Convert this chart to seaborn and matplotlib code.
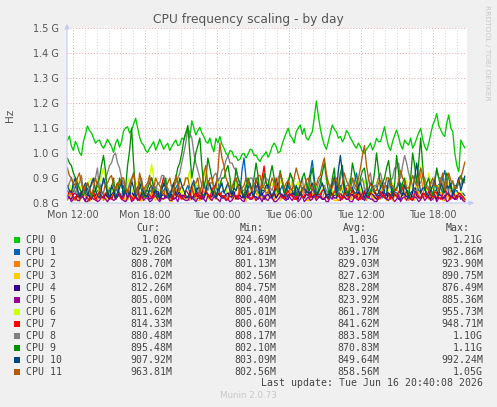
import numpy as np
import pandas as pd
import matplotlib
matplotlib.use("Agg")
import matplotlib.pyplot as plt
import seaborn as sns
from matplotlib.patches import Rectangle

# ---- data (MHz), ~10-minute samples from Mon 11:30 to Tue 20:40 ----
cpu0 = [1050,1068,1028,1010,1046,1030,1002,990,1046,1075,1108,1090,1081,1060,1039,1048,1052,1030,1019,1035,
        1055,1040,1026,1002,1039,1055,1023,1045,1089,1100,1105,1080,1092,1115,1139,1100,1063,1040,1032,1010,
        1002,1020,1032,1045,1012,1030,1055,1035,1015,1030,1039,1010,
        1026,1040,1052,1030,1032,1060,1055,1080,1092,1060,1129,1100,1072,1090,1103,1080,1066,1045,1039,1060,
        1026,1005,1059,1040,1066,1035,1019,1000,988,1010,1006,985,986,970,975,995,999,980,996,1015,
        1012,990,992,975,966,985,992,1005,983,1000,1026,1040,
        1026,1000,1006,1035,1059,1080,1099,1070,1059,1040,1085,1100,1112,1075,1099,1060,1052,1070,1085,1140,
        1208,1150,1099,1060,1032,1015,1046,1080,1112,1095,1085,1060,1066,1045,1059,1090,1079,1060,1046,1030,
        1019,1040,1026,1005,999,1015,1026,1040,1012,1030,1059,1045,
        1046,1075,1105,1060,1026,1010,1046,1070,1092,1065,1032,1015,1052,1040,1032,1060,1019,1035,1059,1080,
        1099,1055,1026,1010,1039,1075,1112,1130,1158,1110,1092,1075,1066,1120,1152,1100,1085,1000,950,925,
        1052,1035,1020]
cpu1 = [850,835,830,845,870,840,820,830,840,855,860,830,825,845,850,870,880,850,830,820,
        845,860,820,835,860,845,835,820,870,850,825,840,850,830,840,865,820,835,860,840,
        830,850,845,825,870,845,820,840,850,865,835,820,820,845,860,875,840,825,830,850,
        870,840,825,815,850,870,840,830,820,845,860,880,835,850,880,900,830,845,850,830,
        820,840,860,880,900,870,840,930,980,900,850,830,830,855,870,845,820,835,845,860,
        860,840,830,850,820,835,850,870,840,825,870,850,825,840,845,830,830,855,860,840,
        880,920,970,900,840,825,820,850,860,835,835,855,850,830,830,845,870,850,825,840,
        845,830,860,880,920,870,830,845,850,825,820,840,840,860,870,845,830,820,850,870,
        825,840,860,845,840,830,880,860,830,850,850,835,820,845,870,850,840,825,830,855,
        860,840,835,850,850,875,870,900,930,880,840,825,825,845,850,830,835,840,829]
cpu2 = [820,835,840,815,810,830,830,845,850,825,815,805,835,850,820,810,845,830,810,825,
        830,815,825,840,815,830,840,825,820,810,835,850,810,825,830,815,845,835,820,840,
        815,830,835,820,825,845,810,830,840,820,830,815,820,840,845,860,815,830,830,820,
        825,810,840,855,810,830,835,820,820,845,830,815,845,830,815,835,840,825,825,810,
        830,850,815,835,850,870,825,840,810,830,835,815,820,845,840,825,830,815,815,840,
        845,830,825,810,835,855,810,825,830,845,820,835,840,820,815,830,835,850,825,815,
        810,830,840,825,820,845,830,815,845,835,815,825,835,850,825,810,810,830,840,825,
        825,815,830,845,815,835,845,825,820,810,835,850,810,830,830,815,840,860,820,835,
        835,825,815,840,830,820,845,870,825,840,810,830,840,825,830,880,920,860,825,840,
        815,830,835,820,825,845,840,815,810,830,830,850,845,825,820,835,830,815,809]
cpu3 = [810,825,830,815,820,840,805,820,840,830,815,805,825,840,810,820,835,815,820,830,
        805,820,830,845,815,825,840,820,820,810,810,830,835,815,825,840,815,805,830,825,
        820,835,845,820,810,830,830,815,815,840,825,810,805,820,840,830,820,835,830,815,
        815,825,835,850,825,810,810,830,850,835,820,810,830,845,815,830,840,820,825,815,
        810,830,830,815,820,840,845,830,815,805,835,850,825,815,810,835,830,820,820,810,
        840,825,815,830,825,845,810,820,835,855,820,840,890,860,830,815,815,835,825,810,
        810,830,835,820,820,845,830,815,815,825,840,830,825,810,810,835,835,820,820,840,
        830,815,815,830,845,825,820,835,810,820,830,845,825,815,840,825,815,830,830,810,
        820,840,810,825,835,815,825,845,815,830,840,820,820,810,830,845,810,825,835,820,
        825,840,815,830,840,820,820,810,830,845,810,825,835,815,825,840,820,830,816]
cpu4 = [830,820,815,835,840,825,825,845,820,810,835,825,815,830,830,850,845,825,820,835,
        825,815,835,845,815,825,840,820,830,845,820,835,845,830,825,815,815,840,835,825,
        830,815,820,835,840,855,815,830,835,820,825,845,830,815,820,835,845,830,830,820,
        825,840,815,830,840,825,830,815,820,840,835,825,825,850,875,840,830,820,820,835,
        840,825,825,845,815,830,830,820,835,850,820,835,845,825,825,815,830,840,815,830,
        835,820,825,840,820,835,840,825,830,815,815,835,835,850,825,815,845,830,820,835,
        830,845,820,835,840,825,825,815,815,830,835,850,830,820,820,840,840,825,825,815,
        815,830,835,820,825,845,830,815,845,830,820,840,835,825,815,830,830,845,825,815,
        840,830,820,835,830,815,815,840,835,825,825,815,845,860,830,820,820,835,835,825,
        825,815,840,830,815,835,830,820,820,840,835,825,825,815,830,840,815,825,812]
cpu5 = [815,825,805,815,825,810,810,830,820,805,805,820,830,815,815,805,810,825,825,815,
        805,820,820,810,815,830,830,815,810,805,820,835,805,815,825,810,815,830,810,820,
        820,805,810,825,830,815,805,820,815,830,825,810,810,820,820,805,835,825,815,810,
        810,825,825,815,805,820,820,830,815,805,830,820,810,825,820,815,805,830,825,810,
        815,805,810,825,830,815,820,810,805,825,825,815,815,830,810,820,820,805,830,815,
        810,825,820,805,805,815,825,835,815,810,835,820,810,825,820,805,815,830,805,815,
        825,810,815,830,810,820,830,815,820,805,805,825,815,840,885,850,810,820,825,815,
        815,805,805,825,820,810,830,820,810,825,825,815,815,805,805,820,820,830,830,815,
        810,825,820,805,815,830,805,820,825,810,830,815,810,825,820,805,815,830,810,820,
        825,810,815,830,805,820,820,815,830,805,810,825,820,815,815,830,825,810,805]
cpu6 = [860,880,840,860,880,900,850,870,830,850,870,890,900,870,850,830,880,910,940,900,
        870,850,840,865,860,880,890,860,850,840,880,900,840,860,870,885,900,870,860,845,
        880,910,955,900,870,850,850,875,890,860,860,840,840,870,880,900,850,835,870,895,
        900,930,860,840,880,860,850,870,930,890,870,850,840,860,860,880,890,865,850,840,
        870,890,840,860,880,855,860,840,850,875,890,860,870,850,840,865,860,880,880,850,
        850,870,870,890,840,855,880,900,860,845,900,870,850,840,870,885,840,860,860,880,
        880,855,850,870,870,845,840,860,860,880,890,870,850,835,870,890,840,855,880,860,
        860,840,840,865,870,885,850,840,890,870,860,845,840,860,880,900,850,870,870,845,
        850,875,880,860,860,840,840,870,870,890,850,860,880,900,860,900,945,890,870,850,
        920,880,860,840,840,870,870,855,850,880,880,860,860,845,840,830,850,825,812]
cpu7 = [830,845,850,825,815,835,840,820,860,840,820,810,835,850,810,830,845,825,825,840,
        840,820,815,835,860,880,830,815,820,845,850,830,825,810,840,860,810,825,835,850,
        850,830,820,840,840,825,830,870,905,860,825,840,815,830,845,825,830,815,820,850,
        840,825,860,835,825,845,815,830,880,850,835,820,850,870,820,835,840,825,830,815,
        815,840,845,830,825,815,860,840,830,850,840,820,820,835,850,880,835,900,948,880,
        860,835,825,845,900,860,840,820,820,835,850,830,830,815,815,840,845,825,825,850,
        840,820,860,840,820,835,835,850,850,825,815,835,830,845,845,825,825,815,840,860,
        820,835,850,825,835,815,815,840,840,860,825,835,860,840,830,815,845,830,820,840,
        835,815,850,835,825,845,840,860,880,850,830,815,815,835,845,825,820,840,835,820,
        850,830,825,845,840,820,815,835,860,840,830,815,845,830,820,840,835,825,814]
cpu8 = [860,880,900,870,840,860,880,910,850,830,830,860,870,890,900,940,850,870,880,900,
        920,950,960,990,1000,960,940,900,880,860,850,880,900,920,860,840,880,900,840,860,
        870,900,900,870,850,880,880,910,910,870,860,840,840,870,880,900,920,960,1000,1040,
        1100,1080,1060,1000,960,930,900,870,870,850,850,880,880,910,920,890,900,930,940,970,
        990,960,960,940,930,900,870,850,850,870,880,900,900,870,860,840,840,870,870,900,
        890,860,850,880,870,900,920,880,860,850,880,910,900,870,850,840,870,900,840,860,
        880,900,860,840,850,880,900,870,870,850,840,870,880,910,860,840,900,930,850,870,
        870,900,890,860,850,880,880,900,860,840,900,920,850,870,870,900,920,880,880,860,
        860,890,900,940,940,960,900,950,990,960,920,890,870,850,850,880,880,910,900,870,
        860,880,880,900,930,900,900,870,870,890,850,870,890,860,860,880,870,900,880]
cpu9 = [980,960,950,920,900,880,860,840,830,850,880,860,820,840,850,880,900,950,990,930,
        830,850,860,900,820,840,900,870,840,860,950,1010,1100,960,840,860,880,850,820,840,
        860,880,900,860,840,820,830,860,870,900,820,840,850,880,900,940,960,1000,1050,1080,
        1110,1000,900,950,1000,1030,1060,950,860,900,980,940,900,860,830,850,870,900,900,930,
        950,900,830,860,940,900,880,850,820,860,900,870,850,900,960,910,830,860,920,880,
        870,910,950,900,860,840,930,890,840,860,880,920,900,860,830,850,870,900,920,880,
        850,900,940,880,830,850,880,920,960,900,850,830,900,940,830,860,920,950,870,840,
        840,880,960,920,880,850,900,930,940,880,830,850,870,920,1000,930,860,880,900,940,
        970,900,840,870,990,920,850,880,900,850,830,900,1000,950,880,960,1060,950,850,880,
        900,860,830,880,940,900,860,840,880,920,900,860,840,870,870,900,910,880,895]
cpu10 = [870,850,840,880,900,860,820,840,860,880,830,850,880,900,850,830,820,860,900,870,
         840,820,870,850,820,840,860,890,830,850,850,830,890,860,820,840,860,880,840,825,
         830,860,870,840,850,830,820,850,880,860,840,820,860,880,830,850,900,870,850,830,
         820,840,870,890,840,860,860,835,830,850,890,870,850,830,820,850,860,880,840,860,
         880,850,830,860,850,875,870,840,820,835,860,880,840,825,900,870,830,850,850,870,
         870,845,820,840,860,880,840,830,830,850,890,860,850,830,870,850,830,860,860,845,
         840,860,880,850,830,840,860,880,850,830,820,850,870,900,840,930,990,920,850,830,
         830,860,860,840,840,870,880,850,820,840,850,880,870,850,830,840,860,880,840,830,
         900,870,830,850,860,880,840,830,870,850,820,840,850,900,960,900,840,860,860,835,
         830,850,870,890,850,830,880,860,840,870,860,880,830,850,870,900,850,880,908]
cpu11 = [940,910,900,880,870,900,920,880,850,870,880,860,830,860,900,870,860,840,840,880,
         880,900,910,870,850,880,870,900,900,860,840,870,890,920,860,840,920,880,850,870,
         880,910,840,860,900,880,870,850,830,860,880,900,860,840,910,880,850,870,870,900,
         900,860,850,880,880,900,840,870,920,950,870,900,900,860,860,930,1040,980,950,900,
         880,860,860,890,900,870,840,860,870,900,890,860,850,880,880,910,910,870,860,840,
         840,870,900,880,870,850,920,890,860,880,890,860,850,900,940,910,880,850,860,890,
         900,870,850,880,870,900,910,950,980,920,880,860,860,890,900,870,850,880,920,890,
         870,850,900,880,860,900,940,990,1030,950,900,870,870,850,850,880,890,860,860,900,
         900,870,870,850,850,890,930,900,880,860,860,880,910,890,870,900,940,910,880,860,
         850,880,900,870,870,850,890,920,850,880,920,890,880,860,860,890,900,930,964]

cpu_names = ["CPU 0", "CPU 1", "CPU 2", "CPU 3", "CPU 4", "CPU 5",
             "CPU 6", "CPU 7", "CPU 8", "CPU 9", "CPU 10", "CPU 11"]
cpu_colors = ["#00CC00", "#0066B3", "#FF8000", "#FFCC00", "#330099", "#990099",
              "#CCFF00", "#FF0000", "#808080", "#008F00", "#00487D", "#B35A00"]
cur_vals = ["1.02G", "829.26M", "808.70M", "816.02M", "812.26M", "805.00M",
            "811.62M", "814.33M", "880.48M", "895.48M", "907.92M", "963.81M"]
min_vals = ["924.69M", "801.81M", "801.13M", "802.56M", "804.75M", "800.40M",
            "805.01M", "800.60M", "808.17M", "802.10M", "803.09M", "802.56M"]
avg_vals = ["1.03G", "839.17M", "829.03M", "827.63M", "828.28M", "823.92M",
            "861.78M", "841.62M", "883.58M", "870.83M", "849.64M", "858.56M"]
max_vals = ["1.21G", "982.86M", "923.90M", "890.75M", "876.49M", "885.36M",
            "955.73M", "948.71M", "1.10G", "1.11G", "992.24M", "1.05G"]
y_tick_vals = [0.8, 0.9, 1.0, 1.1, 1.2, 1.3, 1.4, 1.5]
y_tick_labels = ["0.8 G", "0.9 G", "1.0 G", "1.1 G", "1.2 G", "1.3 G", "1.4 G", "1.5 G"]
x_tick_hours = [12, 18, 24, 30, 36, 42]
x_tick_labels = ["Mon 12:00", "Mon 18:00", "Tue 00:00", "Tue 06:00", "Tue 12:00", "Tue 18:00"]
title = "CPU frequency scaling - by day"
last_update = "Last update: Tue Jun 16 20:40:08 2026"

series = [cpu0, cpu1, cpu2, cpu3, cpu4, cpu5, cpu6, cpu7, cpu8, cpu9, cpu10, cpu11]
t_start, t_end = 11.56, 44.68   # hours since Mon 00:00

# ---- figure ----
W, H = 497, 407
sns.set_theme(style="white")
plt.rcParams["font.family"] = ["DejaVu Sans"]
fig = plt.figure(figsize=(W / 100, H / 100), dpi=100, facecolor="#F0F0F0")

def fx(x):
    return x / W

def fy(y):
    return 1 - y / H

ax = fig.add_axes([fx(67), fy(203), 400 / W, 175 / H])
ax.set_facecolor("white")

frames = []
for name, vals in zip(cpu_names, series):
    hrs = np.linspace(t_start, t_end, len(vals))
    frames.append(pd.DataFrame({"hour": hrs, "hz": np.array(vals, dtype=float) * 1e6, "cpu": name}))
df = pd.concat(frames, ignore_index=True)

sns.lineplot(data=df, x="hour", y="hz", hue="cpu", hue_order=cpu_names,
             palette=dict(zip(cpu_names, cpu_colors)), estimator=None, sort=False,
             linewidth=0.95, legend=False, ax=ax)

ax.set_xlim(11.53, 44.86)
ax.set_ylim(0.8e9, 1.5e9)
ax.set_xlabel("")
ax.set_ylabel("")

# grid
ax.set_axisbelow(True)
for h in range(12, 45):
    if h % 6 == 0:
        ax.axvline(h, color="#e6a8a8", lw=0.7, ls=(0, (1, 2)), zorder=0)
    else:
        ax.axvline(h, color="#d4d4d4", lw=0.7, ls=(0, (1, 2)), zorder=0)
for v in y_tick_vals[1:]:
    ax.axhline(v * 1e9, color="#e6a8a8", lw=0.7, ls=(0, (1, 2)), zorder=0)

ax.set_yticks([v * 1e9 for v in y_tick_vals])
ax.set_yticklabels(y_tick_labels)
ax.set_xticks(x_tick_hours)
ax.set_xticklabels(x_tick_labels)
ax.tick_params(axis="both", labelsize=7, labelcolor="#555555", length=2, color="#888888",
               width=0.6, pad=4, direction="out")
ax.tick_params(axis="x", pad=3)

for s in ax.spines.values():
    s.set_visible(False)

# axes with arrows
ax.annotate("", xy=(0, 1.04), xytext=(0, 0), xycoords="axes fraction",
            arrowprops=dict(arrowstyle="-|>", color="#c4cbf0", lw=0.8, mutation_scale=7),
            annotation_clip=False)
ax.annotate("", xy=(1.025, 0), xytext=(0, 0), xycoords="axes fraction",
            arrowprops=dict(arrowstyle="-|>", color="#c4cbf0", lw=0.8, mutation_scale=7),
            annotation_clip=False)

# titles
fig.text(fx(248), fy(19.5), title, ha="center", va="center", fontsize=8.8, color="#555555")
fig.text(fx(10), fy(115), "Hz", ha="center", va="center", rotation=90, fontsize=7.5, color="#555555")
fig.text(fx(487.5), fy(53), "RRDTOOL / TOBI OETIKER", ha="center", va="center",
         rotation=270, fontsize=5.4, color="#c8c8c8")

# legend table
mono = "DejaVu Sans Mono"
fs = 7.1
tc = "#444444"
hdr_y = 227.5
for txt, xr in [("Cur:", 160.5), ("Min:", 263.5), ("Avg:", 366.5), ("Max:", 470)]:
    fig.text(fx(xr), fy(hdr_y), txt, ha="right", va="center", fontsize=fs, family=mono, color=tc)

row0 = 240
step = 11.97
for i, name in enumerate(cpu_names):
    yy = row0 + i * step
    fig.patches.append(Rectangle((fx(14), fy(yy + 3)), 6 / W, 6 / H, transform=fig.transFigure,
                                 facecolor=cpu_colors[i], edgecolor="none"))
    fig.text(fx(26.5), fy(yy), name, ha="left", va="center", fontsize=fs, family=mono, color=tc)
    fig.text(fx(172), fy(yy), cur_vals[i], ha="right", va="center", fontsize=fs, family=mono, color=tc)
    fig.text(fx(276), fy(yy), min_vals[i], ha="right", va="center", fontsize=fs, family=mono, color=tc)
    fig.text(fx(379), fy(yy), avg_vals[i], ha="right", va="center", fontsize=fs, family=mono, color=tc)
    fig.text(fx(483), fy(yy), max_vals[i], ha="right", va="center", fontsize=fs, family=mono, color=tc)

fig.text(fx(483), fy(383.5), last_update, ha="right", va="center", fontsize=fs, family=mono, color=tc)
fig.text(fx(248), fy(396), "Munin 2.0.73", ha="center", va="center", fontsize=6.3, color="#c8c8c8")

fig.savefig("out.png", dpi=100, facecolor=fig.get_facecolor())
